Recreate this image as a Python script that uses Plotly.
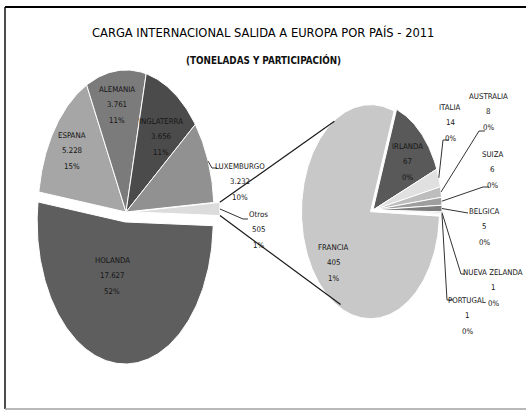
import numpy as np
import plotly.graph_objects as go

# ---------------- data ----------------
main_labels = ["HOLANDA", "ESPANA", "ALEMANIA", "INGLATERRA", "LUXEMBURGO", "Otros"]
main_values = [17627, 5228, 3761, 3656, 3232, 505]

sub_labels = ["FRANCIA", "IRLANDA", "ITALIA", "AUSTRALIA", "SUIZA", "BELGICA",
              "NUEVA ZELANDA", "PORTUGAL"]
sub_values = [405, 67, 14, 8, 6, 5, 1, 1]

TITLE = "CARGA INTERNACIONAL SALIDA A EUROPA POR PAÍS - 2011"
SUBTITLE = "(TONELADAS Y PARTICIPACIÓN)"

# ---------------- layout / style ----------------
W, H = 526, 410
PIE1 = dict(cx=126, cy=212, rx=88, ry=142, start=-1.5)
PIE2 = dict(cx=373, cy=210, rx=69, ry=107, start=-2.4)
CONNECT_ANGLES = (124, 242)   # where connector lines meet the second pie

explode = {"HOLANDA": 10, "Otros": 6, "FRANCIA": 3}

colors = {
    "HOLANDA": "#5e5e5e", "ESPANA": "#a6a6a6", "ALEMANIA": "#7b7b7b",
    "INGLATERRA": "#4b4b4b", "LUXEMBURGO": "#919191", "Otros": "#dcdcdc",
    "FRANCIA": "#c8c8c8", "IRLANDA": "#595959", "ITALIA": "#e0e0e0",
    "AUSTRALIA": "#bdbdbd", "SUIZA": "#9e9e9e", "BELGICA": "#7d7d7d",
    "NUEVA ZELANDA": "#666666", "PORTUGAL": "#a8a8a8",
}

label_pos = {
    "HOLANDA": (112, 260), "ESPANA": (72, 135), "ALEMANIA": (117, 89),
    "INGLATERRA": (161, 121), "LUXEMBURGO": (240, 166), "Otros": (258, 214),
    "FRANCIA": (333, 247), "IRLANDA": (407, 146), "ITALIA": (450, 107),
    "AUSTRALIA": (488, 96), "SUIZA": (492, 154), "BELGICA": (484, 211),
    "NUEVA ZELANDA": (493, 272), "PORTUGAL": (467, 300),
}
LINE_GAP = 15.5

leader_path = {
    "LUXEMBURGO": [(212, 168), (217, 168)],
    "Otros": [(243, 219), (248, 219)],
    "ITALIA": [(443, 140), (449, 140)],
    "AUSTRALIA": [(479, 131), (485, 131)],
    "SUIZA": [(483, 187), (489, 187)],
    "BELGICA": [(468, 213)],
    "NUEVA ZELANDA": [(461, 274), (465, 274)],
    "PORTUGAL": [(447, 300), (453, 300)],
}

FONT = "Liberation Sans Narrow, Arial Narrow, DejaVu Sans Condensed, sans-serif"
LABEL_SIZE = 7.8

grand_total = sum(main_values)


def spans(values, start):
    tot = float(sum(values))
    out, a = [], start
    for v in values:
        s = 360.0 * v / tot
        out.append((a, a - s))
        a -= s
    return out


def offset(name, a0, a1):
    d = explode.get(name, 0)
    m = np.radians((a0 + a1) / 2)
    return d * np.cos(m), -d * np.sin(m)


def ell_pt(p, ang, ox=0.0, oy=0.0):
    t = np.radians(ang)
    return p["cx"] + p["rx"] * np.cos(t) + ox, p["cy"] - p["ry"] * np.sin(t) + oy


fig = go.Figure()
geo = {}

for labels, values, p in ((main_labels, main_values, PIE1), (sub_labels, sub_values, PIE2)):
    for name, v, (a0, a1) in zip(labels, values, spans(values, p["start"])):
        ox, oy = offset(name, a0, a1)
        n = max(int(abs(a0 - a1)) + 2, 4)
        t = np.linspace(a0, a1, n)
        ex, ey = ell_pt(p, t, ox, oy)
        xs = np.concatenate([[p["cx"] + ox], ex, [p["cx"] + ox]])
        ys = np.concatenate([[p["cy"] + oy], ey, [p["cy"] + oy]])
        geo[name] = (p, a0, a1, ox, oy)
        pct = round(100 * v / grand_total)
        fig.add_trace(go.Scatter(
            x=xs, y=ys, mode="lines", fill="toself",
            fillcolor=colors[name], line=dict(color="white", width=1),
            hoveron="fills", name=name,
            text=f"{name}: {v:,}".replace(",", ".") + f" ({pct}%)",
            hoverinfo="text",
        ))

# connector lines between "Otros" and the second pie
p1, a0, a1, ox, oy = geo["Otros"]
hi, lo = max(a0, a1), min(a0, a1)
for a_src, a_dst in ((hi, CONNECT_ANGLES[0]), (lo, CONNECT_ANGLES[1])):
    x0, y0 = ell_pt(p1, a_src, ox, oy)
    x1, y1 = ell_pt(PIE2, a_dst)
    fig.add_trace(go.Scatter(x=[x0, x1], y=[y0, y1], mode="lines",
                             line=dict(color="#1a1a1a", width=1.2), hoverinfo="skip"))

# leader lines
for name, path in leader_path.items():
    p, a0, a1, ox, oy = geo[name]
    sx, sy = ell_pt(p, (a0 + a1) / 2, ox, oy)
    xs = [sx] + [q[0] for q in path]
    ys = [sy] + [q[1] for q in path]
    fig.add_trace(go.Scatter(x=xs, y=ys, mode="lines",
                             line=dict(color="#333333", width=1), hoverinfo="skip"))

# data labels
annotations = []
for labels, values in ((main_labels, main_values), (sub_labels, sub_values)):
    for name, v in zip(labels, values):
        x, y = label_pos[name]
        pct = round(100 * v / grand_total)
        lines = [name, f"{v:,}".replace(",", "."), f"{pct}%"]
        for i, txt in enumerate(lines):
            annotations.append(dict(
                x=x, y=y + i * LINE_GAP, xref="x", yref="y", text=txt,
                showarrow=False, xanchor="center", yanchor="middle",
                font=dict(family=FONT, size=LABEL_SIZE, color="#141414"),
            ))

annotations.append(dict(x=0.5, y=32, xref="paper", yref="y", text=TITLE,
                        showarrow=False, xanchor="center", yanchor="middle",
                        font=dict(family=FONT, size=12.8, color="#000000")))
annotations.append(dict(x=0.5, y=60, xref="paper", yref="y", text=f"<b>{SUBTITLE}</b>",
                        showarrow=False, xanchor="center", yanchor="middle",
                        font=dict(family=FONT, size=9.8, color="#111111")))

shapes = [
    dict(type="line", xref="x", yref="y", x0=5, y0=7, x1=W, y1=7,
         line=dict(color="#000000", width=2)),
    dict(type="line", xref="x", yref="y", x0=5, y0=7, x1=5, y1=409,
         line=dict(color="#111111", width=1.5)),
    dict(type="line", xref="x", yref="y", x0=5, y0=409, x1=W, y1=409,
         line=dict(color="#a0a0a0", width=1.5)),
]

fig.update_layout(
    width=W, height=H, margin=dict(l=0, r=0, t=0, b=0),
    paper_bgcolor="white", plot_bgcolor="white", showlegend=False,
    xaxis=dict(range=[0, W], visible=False, fixedrange=True),
    yaxis=dict(range=[H, 0], visible=False, fixedrange=True),
    annotations=annotations, shapes=shapes,
)

fig.write_html("out.html", config={"displayModeBar": False},
               post_script="document.body.style.margin='0';")
